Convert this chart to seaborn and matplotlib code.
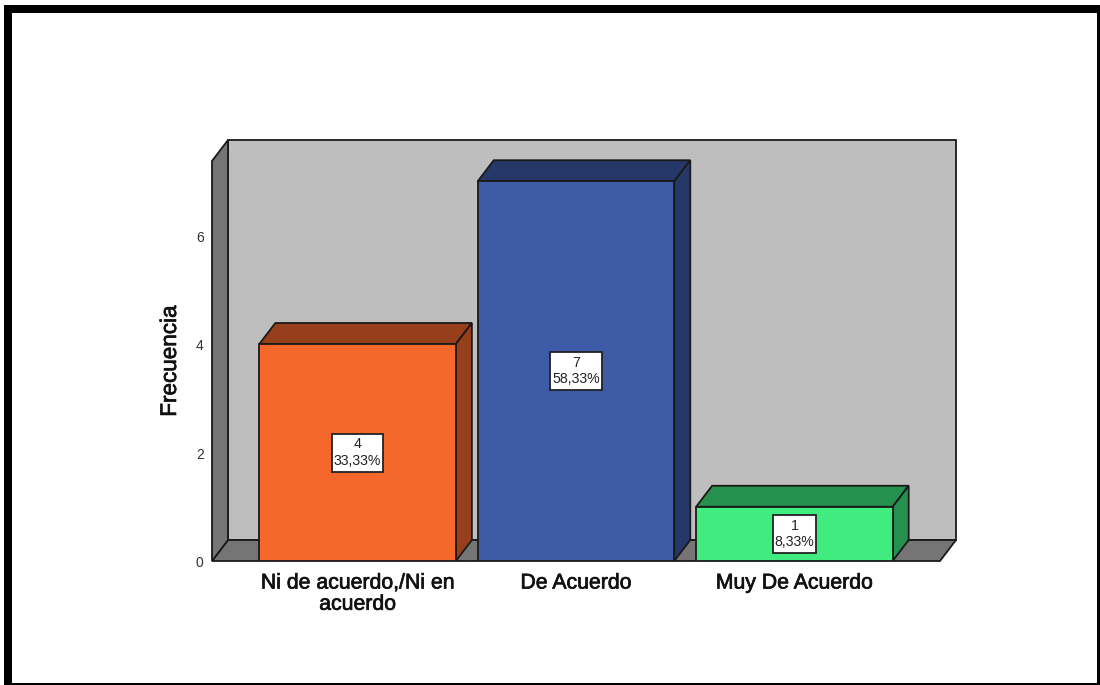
import pandas as pd
import matplotlib
matplotlib.use('Agg')
import matplotlib.pyplot as plt
import matplotlib.patheffects as pe
from matplotlib.patches import Polygon, Rectangle
from matplotlib.transforms import ScaledTranslation
import seaborn as sns

categorias = ['Ni de acuerdo,/Ni en\nacuerdo', 'De Acuerdo', 'Muy De Acuerdo']
frecuencias = [4, 7, 1]
porcentajes = ['33,33%', '58,33%', '8,33%']
ticks_y = [0, 2, 4, 6]

colores = ['#F4682B', '#3E5BA8', '#40EC80']
colores_lado = ['#973F1A', '#263868', '#26904F']

sns.set_theme(style='white')
plt.rcParams['font.family'] = ['Liberation Sans', 'DejaVu Sans']

ANCHO, ALTO = 1100, 685
fig = plt.figure(figsize=(ANCHO / 100, ALTO / 100), dpi=100)

# marco negro de la imagen
for x0, y0, x1, y1 in [(4, 5, 1100, 13), (4, 5, 12, 685), (1097, 5, 1100, 685), (4, 683, 1100, 685)]:
    fig.add_artist(Rectangle((x0 / ANCHO, 1 - y1 / ALTO), (x1 - x0) / ANCHO, (y1 - y0) / ALTO,
                             transform=fig.transFigure, facecolor='black', edgecolor='none'))

# ejes en pixeles de la imagen
ax = fig.add_axes([212 / ANCHO, 1 - 561 / ALTO, 728 / ANCHO, 400 / ALTO])
ax.patch.set_visible(False)

df = pd.DataFrame({'categoria': categorias, 'frecuencia': frecuencias})
sns.barplot(data=df, x='categoria', y='frecuencia', hue='categoria', palette=colores,
            saturation=1, width=0.9, edgecolor='#1a1a1a', linewidth=1.3, legend=False, ax=ax, zorder=4)

ax.set_xlim(-2 / 3, 8 / 3)
ax.set_ylim(0, 400 / 54.25)

# profundidad 3D en unidades de datos
px_x = (ax.get_xlim()[1] - ax.get_xlim()[0]) / 728
px_y = 1 / 54.25
dx = 16 * px_x
dy = 21 * px_y
x_min, x_max = ax.get_xlim()
y_max = ax.get_ylim()[1]

def cara(puntos, color, z):
    ax.add_patch(Polygon(puntos, closed=True, facecolor=color, edgecolor='#1a1a1a',
                         linewidth=1.3, clip_on=False, zorder=z))

cara([(x_min + dx, dy), (x_max + dx, dy), (x_max + dx, y_max + dy), (x_min + dx, y_max + dy)], '#BEBEBE', 1)
cara([(x_min, 0), (x_max, 0), (x_max + dx, dy), (x_min + dx, dy)], '#757575', 2)
cara([(x_min, 0), (x_min + dx, dy), (x_min + dx, y_max + dy), (x_min, y_max)], '#757575', 2)

renderer = fig.canvas.get_renderer()
for barra, lado, n, pct in zip(ax.patches[:3], colores_lado, frecuencias, porcentajes):
    x0, x1 = barra.get_x(), barra.get_x() + barra.get_width()
    h = barra.get_height()
    cara([(x0, h), (x1, h), (x1 + dx, h + dy), (x0 + dx, h + dy)], lado, 3)
    cara([(x1, 0), (x1 + dx, dy), (x1 + dx, h + dy), (x1, h)], lado, 3)
    t = ax.text((x0 + x1) / 2, h / 2, f'{n}\n{pct}', ha='center', va='center', fontsize=10.2,
                color='#222222', linespacing=1.2, zorder=6)
    # caja blanca: mas alta que ancha de margen, como en el original
    ancho_px = t.get_window_extent(renderer).width + 4
    ax.add_patch(Rectangle(((x0 + x1) / 2 - ancho_px * px_x / 2, h / 2 - 19 * px_y),
                           ancho_px * px_x, 38 * px_y, facecolor='white', edgecolor='#222222',
                           linewidth=1.3, zorder=5))

sns.despine(ax=ax, left=True, bottom=True)
ax.set_yticks(ticks_y)
ax.tick_params(axis='y', length=0, pad=6, labelsize=10, labelcolor='#333333')
ax.tick_params(axis='x', length=0, pad=9, labelsize=15.3, labelcolor='#111111')
trazo = [pe.withStroke(linewidth=0.5, foreground='#111111')]
for t in ax.get_xticklabels():
    t.set_linespacing(1.15)
    t.set_path_effects(trazo)
for t in ax.get_yticklabels():
    t.set_transform(t.get_transform() + ScaledTranslation(0, -0.5 / 100, fig.dpi_scale_trans))
ax.set_xlabel('')
ax.set_ylabel('Frecuencia', fontsize=16.2, color='#111111', path_effects=trazo)
ax.yaxis.set_label_coords(-31 / 728, 0.5)

fig.savefig('out.png', dpi=100)
